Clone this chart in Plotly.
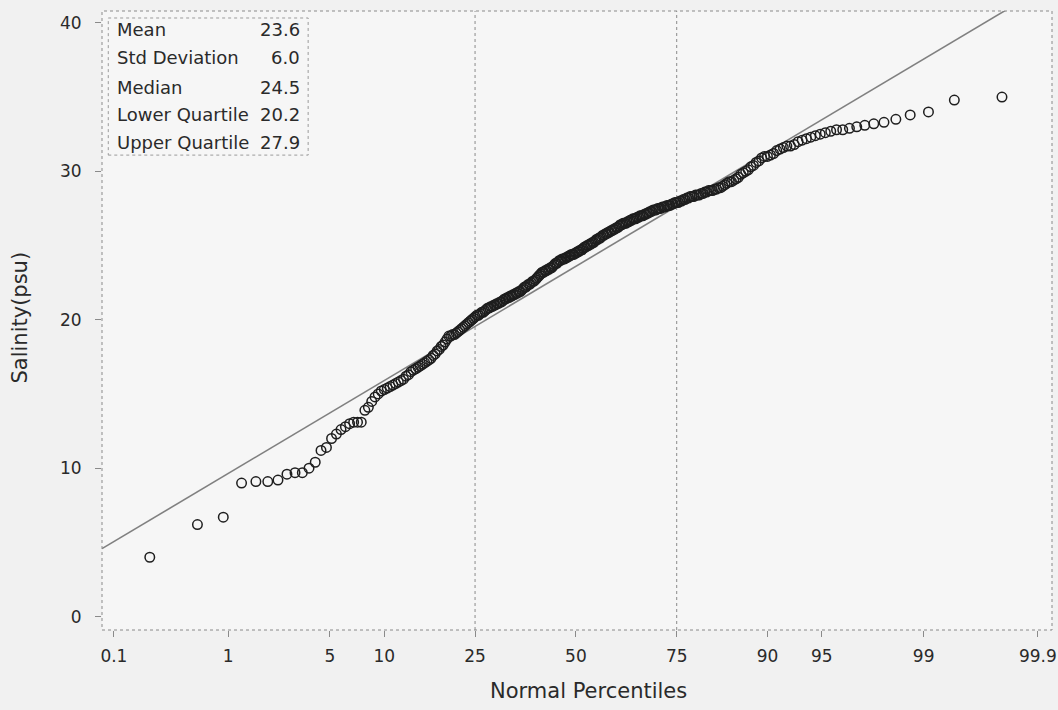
from statistics import NormalDist
import plotly.graph_objects as go

salinity = [
    4.0, 6.2, 6.7, 9.0, 9.1, 9.1, 9.2, 9.6, 9.7, 9.7,
    10.0, 10.4, 11.2, 11.4, 12.0, 12.3, 12.6, 12.8, 13.0, 13.1,
    13.1, 13.1, 13.9, 14.1, 14.5, 14.8, 15.0, 15.2, 15.3, 15.4,
    15.5, 15.6, 15.7, 15.8, 15.9, 16.0, 16.2, 16.3, 16.5, 16.6,
    16.7, 16.8, 16.9, 17.0, 17.1, 17.2, 17.3, 17.4, 17.6, 17.7,
    17.9, 18.0, 18.2, 18.3, 18.5, 18.7, 18.9, 18.9, 19.0, 19.0,
    19.1, 19.2, 19.3, 19.4, 19.5, 19.6, 19.7, 19.8, 19.9, 20.0,
    20.1, 20.2, 20.3, 20.3, 20.4, 20.5, 20.5, 20.6, 20.7, 20.8,
    20.8, 20.9, 20.9, 21.0, 21.0, 21.1, 21.1, 21.2, 21.2, 21.3,
    21.4, 21.4, 21.5, 21.5, 21.6, 21.6, 21.7, 21.7, 21.8, 21.8,
    21.9, 21.9, 22.0, 22.1, 22.2, 22.2, 22.3, 22.4, 22.4, 22.5,
    22.6, 22.6, 22.7, 22.8, 22.9, 23.0, 23.1, 23.2, 23.2, 23.3,
    23.3, 23.4, 23.4, 23.5, 23.5, 23.6, 23.7, 23.8, 23.8, 23.9,
    24.0, 24.0, 24.1, 24.1, 24.1, 24.2, 24.2, 24.3, 24.3, 24.4,
    24.4, 24.4, 24.5, 24.5, 24.6, 24.6, 24.7, 24.7, 24.8, 24.9,
    24.9, 25.0, 25.0, 25.1, 25.1, 25.2, 25.2, 25.3, 25.4, 25.4,
    25.5, 25.5, 25.6, 25.7, 25.7, 25.8, 25.8, 25.9, 25.9, 26.0,
    26.0, 26.1, 26.1, 26.2, 26.2, 26.3, 26.4, 26.4, 26.5, 26.5,
    26.5, 26.6, 26.6, 26.7, 26.7, 26.8, 26.8, 26.8, 26.9, 26.9,
    27.0, 27.0, 27.0, 27.1, 27.1, 27.2, 27.2, 27.3, 27.3, 27.4,
    27.4, 27.4, 27.5, 27.5, 27.5, 27.6, 27.6, 27.6, 27.7, 27.7,
    27.7, 27.8, 27.8, 27.9, 27.9, 27.9, 28.0, 28.0, 28.1, 28.1,
    28.2, 28.2, 28.3, 28.3, 28.3, 28.4, 28.4, 28.4, 28.5, 28.5,
    28.6, 28.6, 28.7, 28.7, 28.7, 28.8, 28.8, 28.9, 28.9, 29.0,
    29.1, 29.2, 29.3, 29.3, 29.4, 29.5, 29.6, 29.8, 29.9, 30.0,
    30.1, 30.3, 30.4, 30.6, 30.7, 30.9, 31.0, 31.0, 31.1, 31.2,
    31.4, 31.5, 31.6, 31.7, 31.7, 31.8, 32.0, 32.1, 32.2, 32.3,
    32.4, 32.5, 32.6, 32.7, 32.8, 32.8, 32.9, 33.0, 33.1, 33.2,
    33.3, 33.5, 33.8, 34.0, 34.8, 35.0,
]

percentile_ticks = [0.1, 1, 5, 10, 25, 50, 75, 90, 95, 99, 99.9]
percentile_labels = ["0.1", "1", "5", "10", "25", "50", "75", "90", "95", "99", "99.9"]
quartile_lines = [25, 75]
y_ticks = [0, 10, 20, 30, 40]

stat_names = ["Mean", "Std Deviation", "Median", "Lower Quartile", "Upper Quartile"]
stat_values = [23.6, 6.0, 24.5, 20.2, 27.9]
mean_val = stat_values[0]
sd_val = stat_values[1]

x_title = "Normal Percentiles"
y_title = "Salinity(psu)"

nd = NormalDist()
n = len(salinity)
z_pts = [nd.inv_cdf((i + 1 - 0.375) / (n + 0.25)) for i in range(n)]
tick_z = [nd.inv_cdf(p / 100.0) for p in percentile_ticks]

X_RANGE = [-3.17, 3.185]
Y_RANGE = [-0.9, 40.8]

FONT = "DejaVu Sans, Liberation Sans, Arial, sans-serif"
TXT = "#2a2a2a"

fig = go.Figure()

# reference normal line: mean + sd * z
line_z = [X_RANGE[0], X_RANGE[1]]
fig.add_trace(go.Scatter(
    x=line_z, y=[mean_val + sd_val * z for z in line_z],
    mode="lines", line=dict(color="#808080", width=1.6),
    hoverinfo="skip", showlegend=False,
))

fig.add_trace(go.Scatter(
    x=z_pts, y=salinity, mode="markers",
    marker=dict(symbol="circle-open", size=9.5, color="#1e1e1e", line=dict(width=1.5, color="#1e1e1e")),
    showlegend=False,
))

for q in quartile_lines:
    zq = nd.inv_cdf(q / 100.0)
    fig.add_shape(type="line", xref="x", yref="y domain", x0=zq, x1=zq, y0=0, y1=1,
                  line=dict(color="#8a8a8a", width=1, dash="dot"), layer="below")

# plot frame (dotted)
fig.add_shape(type="rect", xref="x domain", yref="y domain", x0=0, x1=1, y0=0, y1=1,
              line=dict(color="#8a8a8a", width=1, dash="dot"))

# statistics box
fig.add_shape(type="rect", xref="x domain", yref="y domain",
              x0=0.0066, x1=0.217, y0=0.7672, y1=0.9887,
              line=dict(color="#9a9a9a", width=1, dash="dot"), fillcolor="rgba(0,0,0,0)")
row_y = [0.9701, 0.9248, 0.8771, 0.8335, 0.7882]
for name, val, yy in zip(stat_names, stat_values, row_y):
    fig.add_annotation(xref="x domain", yref="y domain", x=0.0141, y=yy, text=name,
                       showarrow=False, xanchor="left", yanchor="middle",
                       font=dict(family=FONT, size=18, color=TXT))
    fig.add_annotation(xref="x domain", yref="y domain", x=0.2108, y=yy, text=f"{val:.1f}",
                       showarrow=False, xanchor="right", yanchor="middle",
                       font=dict(family=FONT, size=18, color=TXT))

# axis titles as annotations
fig.add_annotation(xref="paper", yref="paper", x=0.5116, y=-0.0985, text=x_title,
                   showarrow=False, xanchor="center", yanchor="middle",
                   font=dict(family=FONT, size=21, color=TXT))
fig.add_annotation(xref="paper", yref="paper", x=-0.0863, y=0.5048, text=y_title,
                   showarrow=False, xanchor="center", yanchor="middle", textangle=-90,
                   font=dict(family=FONT, size=21, color=TXT))

fig.update_layout(
    width=1058, height=710,
    margin=dict(l=102, r=6, t=11, b=80),
    paper_bgcolor="#f1f1f1",
    plot_bgcolor="#f6f6f6",
    font=dict(family=FONT, size=17, color=TXT),
    showlegend=False,
)
fig.update_xaxes(
    range=X_RANGE, tickmode="array", tickvals=tick_z, ticktext=percentile_labels,
    showgrid=False, zeroline=False, showline=False, automargin=False,
    ticks="outside", ticklen=6, tickwidth=1, tickcolor="#8a8a8a",
    ticklabelstandoff=5,
    tickfont=dict(family=FONT, size=17, color=TXT),
)
fig.update_yaxes(
    range=Y_RANGE, tickmode="array", tickvals=y_ticks,
    showgrid=False, zeroline=False, showline=False, automargin=False,
    ticks="outside", ticklen=6, tickwidth=1, tickcolor="#8a8a8a",
    ticklabelstandoff=10,
    tickfont=dict(family=FONT, size=17, color=TXT),
)

fig.write_html("out.html",
               config={"displayModeBar": False},
               post_script="document.body.style.margin='0';document.body.style.background='#f1f1f1';")
